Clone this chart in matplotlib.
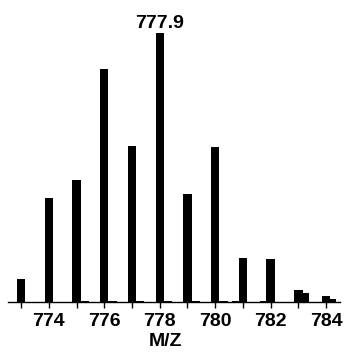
import numpy as np
import matplotlib.pyplot as plt

plt.rcParams['font.family'] = ['Liberation Sans', 'DejaVu Sans']

# main isotope peaks (relative intensity, 778 = 100)
mz = [773, 774, 775, 776, 777, 778, 779, 780, 781, 782, 783, 784]
intensity = [8.6, 38.7, 45.4, 86.6, 58.0, 100.0, 40.1, 57.6, 16.4, 16.0, 4.5, 2.2]

# small shoulder peaks next to the main ones
mz_minor = [775.3, 776.3, 777.3, 778.3, 779.3, 780.3, 780.75, 781.75, 783.22, 784.22]
intensity_minor = [0.4, 0.4, 0.4, 0.4, 0.3, 0.4, 0.4, 0.3, 3.2, 1.2]

peak_label = '777.9'
ticks = list(range(773, 785))
tick_labels = [str(t) if t % 2 == 0 else '' for t in ticks]

fig = plt.figure(figsize=(3.48, 3.54), dpi=100)
ax = fig.add_axes([8 / 348, 52 / 354, 332 / 348, 292 / 354])

ax.bar(mz, intensity, width=0.3, color='black')
ax.bar(mz_minor, intensity_minor, width=0.3, color='black')

top = intensity.index(max(intensity))
ax.text(mz[top], intensity[top] + 0.3, peak_label, ha='center', va='bottom',
        fontsize=14, fontweight='bold')

ax.set_xlim(772.53, 784.5)
ax.set_ylim(0, 108.6)
ax.set_xticks(ticks)
ax.set_xticklabels(tick_labels, fontsize=14, fontweight='bold')
ax.tick_params(axis='x', direction='out', length=4, width=1, pad=4)
ax.set_yticks([])
for s in ['top', 'right', 'left']:
    ax.spines[s].set_visible(False)
ax.spines['bottom'].set_linewidth(1)
ax.set_xlabel('M/Z', fontsize=14, fontweight='bold')
ax.xaxis.set_label_coords(0.475, -0.105)

plt.savefig('out.png', dpi=100)
